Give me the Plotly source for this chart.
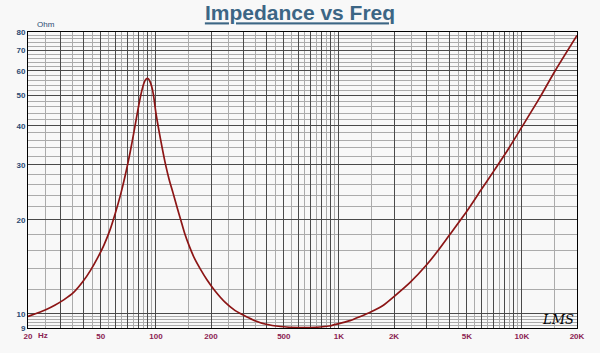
import plotly.graph_objects as go

# impedance curve
freq = [20, 22.5, 25, 28, 31.5, 35.5, 40, 44, 48, 52, 56, 60, 64, 68, 72, 76, 80, 83.5,
        86, 88, 89.5, 91, 93, 95, 97, 100, 104, 108, 113, 118, 124, 130, 137, 144, 152,
        162, 175, 190, 210, 240, 270, 300, 340, 400, 480, 600, 750, 900, 1000, 1150, 1300,
        1500, 1750, 2000, 2450, 3000, 3500, 4000, 5000, 6000, 7000, 8500, 10000, 12450,
        15166, 20000]
imp = [9.8, 10.05, 10.3, 10.65, 11.1, 11.7, 12.7, 13.8, 15.1, 16.6, 18.5, 21.0, 24.0,
       27.8, 32.5, 38.5, 45.5, 51.5, 54.8, 56.3, 56.8, 56.6, 55.4, 53.3, 50.2, 44.0,
       38.5, 34.2, 30.0, 27.0, 24.4, 22.1, 19.9, 18.0, 16.5, 15.1, 13.9, 12.85, 11.85,
       10.85, 10.25, 9.9, 9.55, 9.25, 9.1, 9.03, 9.05, 9.15, 9.3, 9.5, 9.78, 10.15, 10.65,
       11.35, 12.6, 14.3, 16.0, 17.8, 21.3, 25.0, 28.6, 34.0, 39.7, 49.0, 60.0, 78.0]

# axis ticks / grid
x_major = [20, 30, 40, 50, 60, 70, 80, 90, 100, 200, 300, 400, 500, 600, 700, 800, 900,
           1000, 2000, 3000, 4000, 5000, 6000, 7000, 8000, 9000, 10000, 20000]
x_labels = ["20", "", "", "50", "", "", "", "", "100", "200", "", "", "500", "", "", "", "",
            "1K", "2K", "", "", "5K", "", "", "", "", "10K", "20K"]
x_minor = [25, 35, 45, 55, 65, 75, 85, 95, 150, 250, 350, 450, 550, 650, 750, 850, 950,
           1500, 2500, 3500, 4500, 5500, 6500, 7500, 8500, 9500, 15000]
y_major = [9, 10, 20, 30, 40, 50, 60, 70, 80]
y_labels = ["9", "10", "20", "30", "40", "50", "60", "70", "80"]
y_minor = [9.2, 9.4, 9.6, 9.8, 12, 14, 16, 18, 22, 24, 26, 28, 32, 34, 36, 38, 42, 44, 46, 48,
           52, 54, 56, 58, 62, 64, 66, 68, 72, 74, 76, 78]

BG = "#F8F8F8"
XCOL = "#8B2252"
YCOL = "#2B4A72"
fig = go.Figure()
fig.add_trace(go.Scatter(x=freq, y=imp, mode="lines",
                         line=dict(color="#8C1515", width=1.7, shape="spline", smoothing=0.6),
                         hoverinfo="skip", showlegend=False))

fig.update_layout(
    width=600, height=353,
    margin=dict(l=28, r=23, t=32, b=18),
    paper_bgcolor=BG, plot_bgcolor=BG,
    font=dict(family="Liberation Sans, Arial", size=8),
    title=dict(text="<b><u>Impedance vs Freq</u></b>", x=0.5, xanchor="center",
               y=1 - 13 / 353, yanchor="middle", yref="container",
               font=dict(size=21, color="#3C6685", family="Liberation Sans, Arial")),
    xaxis=dict(type="log", range=[1.30103, 4.30103], tickmode="array", tickvals=x_major,
               ticktext=x_labels, showgrid=True, gridcolor="#4A4A4A", gridwidth=1,
               ticks="", tickfont=dict(color=XCOL, size=8, weight="bold"), showline=True,
               linecolor="black", linewidth=1, mirror=True, zeroline=False,
               minor=dict(tickmode="array", tickvals=x_minor, showgrid=True,
                          gridcolor="#ABABAB", gridwidth=1, ticks="")),
    yaxis=dict(type="log", range=[0.954243, 1.90309], tickmode="array", tickvals=y_major,
               ticktext=y_labels, showgrid=True, gridcolor="#4A4A4A", gridwidth=1,
               ticks="", tickfont=dict(color=YCOL, size=8, weight="bold"), showline=True,
               linecolor="black", linewidth=1, mirror=True, zeroline=False,
               minor=dict(tickmode="array", tickvals=y_minor, showgrid=True,
                          gridcolor="#ABABAB", gridwidth=1, ticks="")),
)

fig.add_annotation(text="Ohm", xref="paper", yref="paper", x=0.012, y=1.0, yshift=1,
                   xanchor="left", yanchor="bottom", showarrow=False,
                   font=dict(size=8, color=YCOL))
fig.add_annotation(text="Hz", xref="paper", yref="paper", x=0.027, y=0, yshift=-7,
                   xanchor="center", yanchor="middle", showarrow=False,
                   font=dict(size=8, color=XCOL, weight="bold"))
fig.add_annotation(text="<i>LMS</i>", xref="paper", yref="paper", x=0.965, y=0.03,
                   xanchor="center", yanchor="middle", showarrow=False,
                   font=dict(size=13, color="black", family="DejaVu Serif"))

fig.write_html("out.html")
